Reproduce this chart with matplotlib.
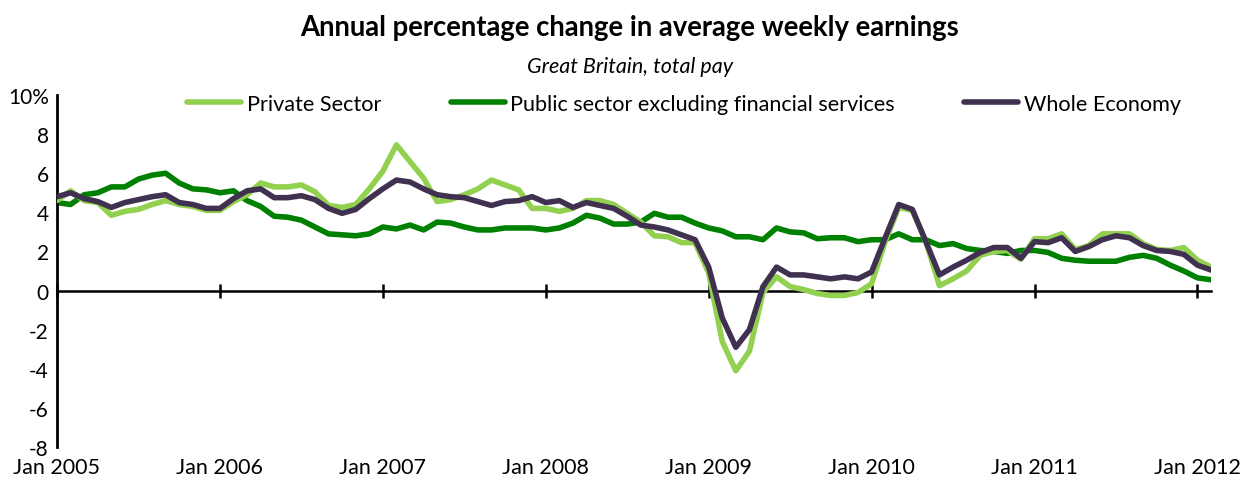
import matplotlib
matplotlib.use("Agg")
import matplotlib.pyplot as plt
import numpy as np

plt.rcParams['font.family'] = ['Lato', 'DejaVu Sans']

# Monthly data, Jan 2005 .. Feb 2012
private_sector = [
    4.6, 5.1, 4.6, 4.5, 3.85, 4.05, 4.15, 4.4, 4.6, 4.4, 4.3, 4.1,
    4.1, 4.55, 4.9, 5.5, 5.3, 5.3, 5.4, 5.05, 4.35, 4.25, 4.4, 5.2,
    6.1, 7.45, 6.6, 5.75, 4.55, 4.65, 4.9, 5.2, 5.65, 5.4, 5.15, 4.2,
    4.2, 4.05, 4.2, 4.6, 4.6, 4.4, 3.95, 3.5, 2.8, 2.75, 2.45, 2.45,
    0.9, -2.6, -4.1, -3.1, -0.1, 0.7, 0.2, 0.05, -0.15, -0.25, -0.25, -0.1,
    0.35, 2.5, 4.25, 4.1, 2.5, 0.25, 0.6, 1.0, 1.8, 2.0, 2.05, 1.6,
    2.65, 2.65, 2.9, 2.1, 2.3, 2.9, 2.9, 2.9, 2.4, 2.1, 2.05, 2.2,
    1.55, 1.2,
]
public_sector = [
    4.5, 4.4, 4.9, 5.0, 5.3, 5.3, 5.7, 5.9, 6.0, 5.5, 5.2, 5.15,
    5.0, 5.1, 4.6, 4.3, 3.8, 3.75, 3.6, 3.25, 2.9, 2.85, 2.8, 2.9,
    3.25, 3.15, 3.35, 3.1, 3.5, 3.45, 3.25, 3.1, 3.1, 3.2, 3.2, 3.2,
    3.1, 3.2, 3.45, 3.85, 3.7, 3.4, 3.4, 3.5, 3.95, 3.75, 3.75, 3.45,
    3.2, 3.05, 2.75, 2.75, 2.6, 3.2, 3.0, 2.95, 2.65, 2.7, 2.7, 2.5,
    2.6, 2.6, 2.9, 2.6, 2.6, 2.3, 2.4, 2.15, 2.05, 2.0, 1.9, 2.05,
    2.05, 1.95, 1.65, 1.55, 1.5, 1.5, 1.5, 1.7, 1.8, 1.65, 1.3, 1.0,
    0.65, 0.55,
]
whole_economy = [
    4.8, 5.0, 4.7, 4.55, 4.25, 4.5, 4.65, 4.8, 4.9, 4.5, 4.4, 4.2,
    4.2, 4.7, 5.1, 5.2, 4.75, 4.75, 4.85, 4.65, 4.2, 3.95, 4.15, 4.7,
    5.2, 5.65, 5.55, 5.2, 4.9, 4.8, 4.75, 4.55, 4.35, 4.55, 4.6, 4.8,
    4.5, 4.6, 4.25, 4.5, 4.35, 4.2, 3.8, 3.35, 3.25, 3.1, 2.85, 2.6,
    1.2, -1.4, -2.9, -2.0, 0.2, 1.2, 0.8, 0.8, 0.7, 0.6, 0.7, 0.6,
    0.95, 2.7, 4.4, 4.15, 2.5, 0.8, 1.2, 1.55, 1.95, 2.2, 2.2, 1.65,
    2.5, 2.45, 2.7, 2.0, 2.25, 2.6, 2.8, 2.7, 2.3, 2.05, 2.0, 1.85,
    1.3, 1.05,
]
year_labels = ["Jan 2005", "Jan 2006", "Jan 2007", "Jan 2008",
               "Jan 2009", "Jan 2010", "Jan 2011", "Jan 2012"]
y_ticks = [10, 8, 6, 4, 2, 0, -2, -4, -6, -8]
y_tick_labels = ["10%", "8", "6", "4", "2", "0", "-2", "-4", "-6", "-8"]

months = np.arange(len(whole_economy))
tick_pos = np.arange(len(year_labels)) * 12

fig = plt.figure(figsize=(12.52, 4.89), dpi=100)
ax = fig.add_axes([57/1252, 1 - 448/489, (1211 - 57)/1252, (448 - 96)/489])

lw = 4.0
l_pub, = ax.plot(months, public_sector, color='#008000', lw=lw,
                 solid_joinstyle='round', solid_capstyle='round', zorder=2,
                 label='Public sector excluding financial services')
l_priv, = ax.plot(months, private_sector, color='#92D050', lw=lw,
                  solid_joinstyle='round', solid_capstyle='round', zorder=3,
                  label='Private Sector')
l_whole, = ax.plot(months, whole_economy, color='#403151', lw=lw,
                   solid_joinstyle='round', solid_capstyle='round', zorder=4,
                   label='Whole Economy')

ax.set_xlim(0, len(months) - 1)
ax.set_ylim(-8, 10)

ax.spines['top'].set_visible(False)
ax.spines['right'].set_visible(False)
ax.spines['left'].set_linewidth(2)
ax.spines['bottom'].set_position(('data', 0))
ax.spines['bottom'].set_linewidth(1.8)
ax.spines['bottom'].set_zorder(1)

ax.set_yticks(y_ticks)
ax.set_yticklabels(y_tick_labels, fontsize=15)
ax.tick_params(axis='y', length=0, pad=6)

ax.set_xticks(tick_pos)
ax.set_xticklabels([])
ax.tick_params(axis='x', direction='inout', length=10, width=1.8)

sec = ax.secondary_xaxis(location=0.0)
sec.set_xticks(tick_pos)
sec.set_xticklabels(year_labels, fontsize=15.5)
sec.tick_params(axis='x', length=0, pad=7)
sec.spines['bottom'].set_visible(False)

fig.text(0.503, 1 - 28/489, "Annual percentage change in average weekly earnings",
         ha='center', va='center', fontsize=19.8, fontweight='bold')
fig.text(0.503, 1 - 67/489, "Great Britain, total pay",
         ha='center', va='center', fontsize=15.5, style='italic')

fig.legend(handles=[l_priv, l_pub, l_whole], loc='center',
           bbox_to_anchor=(684/1252, 1 - 105/489), ncol=3, frameon=False,
           fontsize=15.6, handlelength=2.5, handletextpad=0.25, columnspacing=3.2)

fig.savefig("out.png", dpi=100)
